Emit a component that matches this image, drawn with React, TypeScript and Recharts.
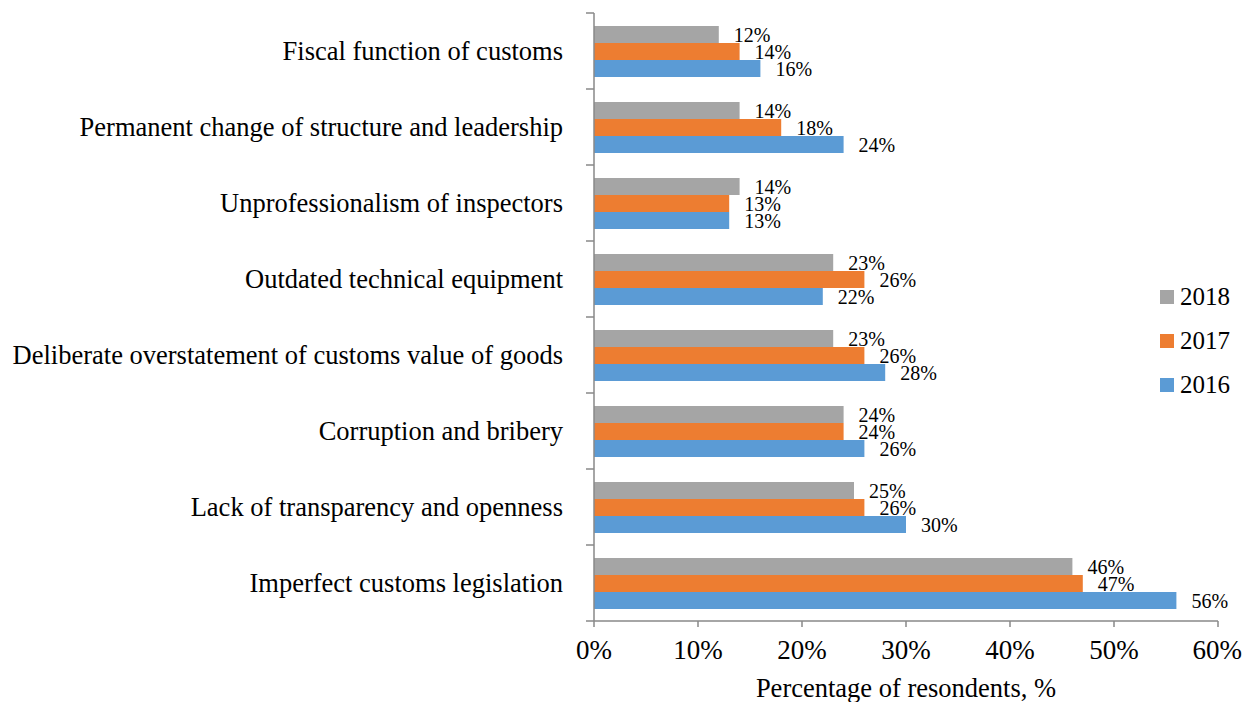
import React from 'react';
import { BarChart, Bar, XAxis, YAxis, LabelList } from 'recharts';

const categories = [
  'Fiscal function of customs',
  'Permanent change of structure and leadership',
  'Unprofessionalism of inspectors',
  'Outdated technical equipment',
  'Deliberate overstatement of customs value of goods',
  'Corruption and bribery',
  'Lack of transparency and openness',
  'Imperfect customs legislation',
];

const values2018 = [12, 14, 14, 23, 23, 24, 25, 46];
const values2017 = [14, 18, 13, 26, 26, 24, 26, 47];
const values2016 = [16, 24, 13, 22, 28, 26, 30, 56];

const xTicks = [0, 10, 20, 30, 40, 50, 60];

const series = [
  { key: 'y2018', name: '2018', color: '#A5A5A5' },
  { key: 'y2017', name: '2017', color: '#ED7D31' },
  { key: 'y2016', name: '2016', color: '#5B9BD5' },
];

const data = categories.map((c, i) => ({
  name: c,
  y2018: values2018[i],
  y2017: values2017[i],
  y2016: values2016[i],
}));

const FONT = '"Liberation Serif", "Times New Roman", serif';
const AXIS = '#888888';
const BAND = 76;

// category label plus the Excel-style tick marks between categories
const CategoryTick = (props: any) => {
  const { x, y, payload, index } = props;
  return (
    <g>
      <text x={x - 31} y={y} dy={9} textAnchor="end" fontFamily={FONT} fontSize={26.5} fill="#000">
        {payload.value}
      </text>
      {index === 0 && <line x1={x - 8} x2={x} y1={y - BAND / 2} y2={y - BAND / 2} stroke={AXIS} strokeWidth={1.5} />}
      <line x1={x - 8} x2={x} y1={y + BAND / 2} y2={y + BAND / 2} stroke={AXIS} strokeWidth={1.5} />
    </g>
  );
};

export default function App() {
  return (
    <div style={{ position: 'relative', width: 1242, height: 702, background: '#fff' }}>
      <style>{'body{margin:0}'}</style>
      <BarChart
        width={1242}
        height={702}
        data={data}
        layout="vertical"
        margin={{ top: 13, right: 24, bottom: 41, left: 0 }}
        barGap={0}
      >
        <XAxis
          type="number"
          domain={[0, 60]}
          ticks={xTicks}
          tickFormatter={(v: number) => `${v}%`}
          axisLine={{ stroke: AXIS, strokeWidth: 1.5 }}
          tickLine={{ stroke: AXIS, strokeWidth: 1.5 }}
          tickSize={6}
          tickMargin={13}
          height={40}
          tick={{ fontFamily: FONT, fontSize: 27, fill: '#000' }}
          label={{
            value: 'Percentage of resondents, %',
            position: 'insideBottom',
            offset: -36,
            style: { fontFamily: FONT, fontSize: 26.5, fill: '#000' },
          }}
        />
        <YAxis
          type="category"
          dataKey="name"
          width={594}
          axisLine={{ stroke: AXIS, strokeWidth: 1.5 }}
          tickLine={false}
          tickSize={0}
          tickMargin={0}
          tick={<CategoryTick />}
          interval={0}
        />
        {series.map((s) => (
          <Bar key={s.key} dataKey={s.key} name={s.name} fill={s.color} barSize={17} isAnimationActive={false}>
            <LabelList
              dataKey={s.key}
              position="right"
              offset={15}
              formatter={(v: any) => `${v}%`}
              style={{ fontFamily: FONT, fontSize: 20, fill: '#000' }}
            />
          </Bar>
        ))}
      </BarChart>
      <div style={{ position: 'absolute', left: 1160, top: 275, fontFamily: FONT, fontSize: 25, color: '#000' }}>
        {series.map((s) => (
          <div key={s.key} style={{ display: 'flex', alignItems: 'center', height: 44 }}>
            <span style={{ width: 14, height: 14, background: s.color, marginRight: 6, display: 'inline-block' }} />
            {s.name}
          </div>
        ))}
      </div>
    </div>
  );
}
